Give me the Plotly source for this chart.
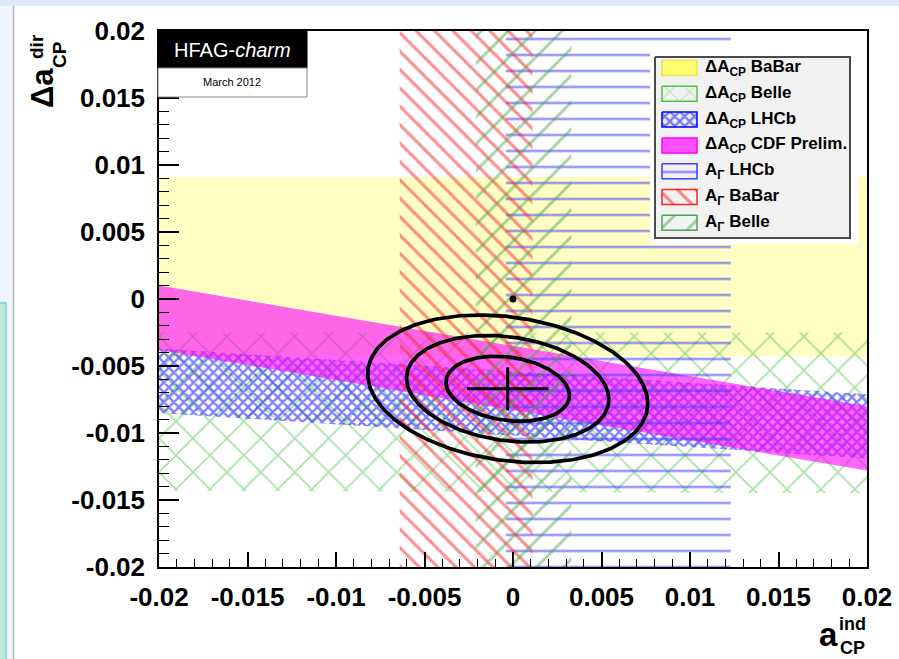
import numpy as np
import plotly.graph_objects as go

# ---------------- data ----------------
x_range = [-0.02, 0.02]
y_range = [-0.02, 0.02]

tick_vals = [-0.02, -0.015, -0.01, -0.005, 0, 0.005, 0.01, 0.015, 0.02]
tick_text = ["-0.02", "-0.015", "-0.01", "-0.005", "0", "0.005", "0.01", "0.015", "0.02"]

# Delta A_CP bands: y limits at the left (x=-0.02) and right (x=+0.02) edges
dacp_babar_left = [-0.0043, 0.0091]
dacp_babar_right = [-0.0043, 0.0091]
dacp_belle_left = [-0.0143, -0.0025]
dacp_belle_right = [-0.0145, -0.0025]
dacp_lhcb_left = [-0.0085, -0.0037]
dacp_lhcb_right = [-0.0119, -0.0071]
dacp_cdf_left = [-0.0038, 0.0010]
dacp_cdf_right = [-0.0128, -0.0080]

# A_Gamma bands: x limits (vertical bands over the full y range)
agamma_lhcb_x = [-0.0004, 0.0123]
agamma_babar_x = [-0.0064, 0.0011]
agamma_belle_x = [-0.0021, 0.0033]

# HFAG fit result
fit_center = [-0.0003, -0.0067]
fit_sigma = [0.0023, 0.0016]
fit_rho = -0.2
contour_dchi2 = [2.30, 6.18, 11.83]
no_cpv_point = [0.0, 0.0]

legend_names = [
    "ΔA<sub>CP</sub> BaBar",
    "ΔA<sub>CP</sub> Belle",
    "ΔA<sub>CP</sub> LHCb",
    "ΔA<sub>CP</sub> CDF Prelim.",
    "A<sub>Γ</sub> LHCb",
    "A<sub>Γ</sub> BaBar",
    "A<sub>Γ</sub> Belle",
]

# ---------------- styles ----------------
band_styles = [
    dict(fillcolor="#ffffc4", pattern=None, line="#e6e650", swatch_fill="#ffff70"),
    dict(fillcolor="rgba(0,0,0,0)", pattern=dict(shape="x", fgcolor="#4cc44c", size=24, solidity=0.13),
         line="#4cc44c", swatch_fill=None),
    dict(fillcolor="rgba(0,0,0,0)", pattern=dict(shape="x", fgcolor="#0000ff", size=7, solidity=0.55),
         line="#0000ff", swatch_fill=None),
    dict(fillcolor="rgba(255,0,255,0.6)", pattern=None, line="#ff00ff", swatch_fill="#ff50ff"),
    dict(fillcolor="rgba(0,0,0,0)", pattern=dict(shape="-", fgcolor="#3c3cff", size=16, solidity=0.17),
         line="#3c3cff", swatch_fill=None),
    dict(fillcolor="rgba(0,0,0,0)", pattern=dict(shape="\\", fgcolor="#ff2020", size=13, solidity=0.24),
         line="#ff2020", swatch_fill=None),
    dict(fillcolor="rgba(0,0,0,0)", pattern=dict(shape="/", fgcolor="#4fa44f", size=19, solidity=0.15),
         line="#4fa44f", swatch_fill=None),
]

# ---------------- figure geometry ----------------
W, H = 899, 659
ML, MR, MT, MB = 159, 32, 31, 92
PW, PH = W - ML - MR, H - MT - MB


def px(xp):
    return (xp - ML) / PW


def py(yp):
    return (H - MB - yp) / PH


FONT = "Liberation Sans, Arial, Helvetica, sans-serif"

fig = go.Figure()


def hband(left, right):
    xs = [x_range[0], x_range[1], x_range[1], x_range[0], x_range[0]]
    ys = [left[0], right[0], right[1], left[1], left[0]]
    return xs, ys


def vband(xl):
    xs = [xl[0], xl[1], xl[1], xl[0], xl[0]]
    ys = [y_range[0], y_range[0], y_range[1], y_range[1], y_range[0]]
    return xs, ys


bands = [
    hband(dacp_babar_left, dacp_babar_right),
    hband(dacp_belle_left, dacp_belle_right),
    hband(dacp_lhcb_left, dacp_lhcb_right),
    hband(dacp_cdf_left, dacp_cdf_right),
    vband(agamma_lhcb_x),
    vband(agamma_babar_x),
    vband(agamma_belle_x),
]

for (xs, ys), name, st in zip(bands, legend_names, band_styles):
    kw = dict(x=xs, y=ys, mode="lines", fill="toself", name=name, showlegend=False,
              fillcolor=st["fillcolor"], line=dict(width=0, color=st["line"]), hoverinfo="skip")
    if st["pattern"] is not None:
        kw["fillpattern"] = st["pattern"]
    fig.add_trace(go.Scatter(**kw))

# Fit contours
t = np.linspace(0, 2 * np.pi, 300)
cov = np.array([[fit_sigma[0] ** 2, fit_rho * fit_sigma[0] * fit_sigma[1]],
                [fit_rho * fit_sigma[0] * fit_sigma[1], fit_sigma[1] ** 2]])
Lc = np.linalg.cholesky(cov)
for d in contour_dchi2:
    k = np.sqrt(d)
    pts = Lc @ np.vstack([np.cos(t), np.sin(t)]) * k
    fig.add_trace(go.Scatter(x=fit_center[0] + pts[0], y=fit_center[1] + pts[1], mode="lines",
                             line=dict(color="black", width=3.7), showlegend=False, hoverinfo="skip"))
# Fit error cross
fig.add_trace(go.Scatter(x=[fit_center[0] - fit_sigma[0], fit_center[0] + fit_sigma[0]],
                         y=[fit_center[1], fit_center[1]], mode="lines",
                         line=dict(color="black", width=3), showlegend=False))
fig.add_trace(go.Scatter(x=[fit_center[0], fit_center[0]],
                         y=[fit_center[1] - fit_sigma[1], fit_center[1] + fit_sigma[1]], mode="lines",
                         line=dict(color="black", width=3), showlegend=False))
# No-CPV point
fig.add_trace(go.Scatter(x=[no_cpv_point[0]], y=[no_cpv_point[1]], mode="markers",
                         marker=dict(color="black", size=7), showlegend=False))

# ---------------- legend box (drawn in an overlay subplot in pixel units) ----------------
LX0, LX1, LY0, LY1 = 650, 858, 52, 244
box = [655, 850, 57, 238]
sw_x = [662, 697]
row0, row_step, sw_half = 68, 25.8, 7.5
text_x = 703

fig.add_trace(go.Scatter(x=[box[0], box[1], box[1], box[0], box[0]],
                         y=[box[2], box[2], box[3], box[3], box[2]],
                         mode="lines", fill="toself", fillcolor="#f2f2f2",
                         line=dict(color="#4a4a4a", width=2), xaxis="x2", yaxis="y2",
                         showlegend=False, hoverinfo="skip"))
annotations = []
for i, (name, st) in enumerate(zip(legend_names, band_styles)):
    yc = row0 + i * row_step
    xs = [sw_x[0], sw_x[1], sw_x[1], sw_x[0], sw_x[0]]
    ys = [yc - sw_half, yc - sw_half, yc + sw_half, yc + sw_half, yc - sw_half]
    kw = dict(x=xs, y=ys, mode="lines", fill="toself", xaxis="x2", yaxis="y2",
              line=dict(color=st["line"], width=1.5), showlegend=False, hoverinfo="skip",
              fillcolor=st["swatch_fill"] if st["swatch_fill"] else "rgba(0,0,0,0)")
    if st["pattern"] is not None:
        p = dict(st["pattern"])
        if p["shape"] == "x" and p["size"] > 20:
            p["size"] = 14
        kw["fillpattern"] = p
    fig.add_trace(go.Scatter(**kw))
    annotations.append(dict(text=name, xref="paper", yref="paper", x=px(text_x), y=py(yc),
                            xanchor="left", yanchor="middle", showarrow=False,
                            font=dict(family=FONT, size=17, color="black", weight=700)))

axis_common = dict(
    showgrid=False, zeroline=False, showline=True, linecolor="black", linewidth=1.5,
    mirror=True, ticks="inside", tickcolor="black", tickwidth=1.5,
    tickvals=tick_vals, ticktext=tick_text,
    tickfont=dict(family=FONT, size=26, color="black", weight=700),
    automargin=False,
)
fig.update_layout(
    xaxis=dict(range=x_range, ticklen=15, ticklabelstandoff=6, domain=[0, 1],
               minor=dict(ticks="inside", ticklen=8, dtick=0.001, tickcolor="black", tickwidth=1.2),
               **axis_common),
    yaxis=dict(range=y_range, ticklen=20, ticklabelstandoff=7, domain=[0, 1],
               minor=dict(ticks="inside", ticklen=10, dtick=0.001, tickcolor="black", tickwidth=1.2),
               **axis_common),
    xaxis2=dict(domain=[px(LX0), px(LX1)], range=[LX0, LX1], anchor="y2", visible=False,
                fixedrange=True),
    yaxis2=dict(domain=[py(LY1), py(LY0)], range=[LY1, LY0], anchor="x2", visible=False,
                fixedrange=True),
)

shapes = [
    # slide background decorations
    dict(type="rect", xref="paper", yref="paper", x0=px(0), x1=px(13), y0=py(H), y1=py(0),
         fillcolor="#eef4fb", line=dict(width=0), layer="below"),
    dict(type="rect", xref="paper", yref="paper", x0=px(0), x1=px(W), y0=py(6), y1=py(0),
         fillcolor="#dde9f6", line=dict(width=0), layer="below"),
    dict(type="line", xref="paper", yref="paper", x0=px(13.5), x1=px(13.5), y0=py(H), y1=py(6),
         line=dict(color="#b8b8b0", width=1.5), layer="below"),
    dict(type="rect", xref="paper", yref="paper", x0=px(-2), x1=px(6), y0=py(H + 2), y1=py(303),
         fillcolor="#bde8da", line=dict(color="#7fd5bd", width=1.5), layer="below"),
    # HFAG label boxes
    dict(type="rect", xref="paper", yref="paper", x0=px(158), x1=px(307), y0=py(68), y1=py(31),
         fillcolor="black", line=dict(color="black", width=1), layer="above"),
    dict(type="rect", xref="paper", yref="paper", x0=px(158), x1=px(307), y0=py(97), y1=py(68),
         fillcolor="white", line=dict(color="#888888", width=1), layer="above"),
]


def ann(text, x, y, size, angle=0, color="black", weight=700):
    return dict(text=text, xref="paper", yref="paper", x=px(x), y=py(y), textangle=angle,
                xanchor="center", yanchor="middle", showarrow=False, borderpad=0,
                font=dict(family=FONT, size=size, color=color, weight=weight))


annotations += [
    ann("HFAG-<i>charm</i>", 232, 50, 20, color="white", weight=400),
    ann("March 2012", 232, 82, 11, weight=400),
    # y title
    ann("Δa", 42, 88, 31, angle=-90),
    ann("dir", 37, 47, 19, angle=-90),
    ann("CP", 59, 55, 19, angle=-90),
    # x title
    ann("a", 828, 634, 33),
    ann("ind", 852, 624, 18),
    ann("CP", 852, 648, 18),
]

fig.update_layout(
    width=W, height=H,
    margin=dict(l=ML, r=MR, t=MT, b=MB, pad=0),
    paper_bgcolor="white", plot_bgcolor="white",
    shapes=shapes, annotations=annotations,
    showlegend=False,
    hovermode=False,
)

fig.write_html(
    "out.html",
    config={"displayModeBar": False},
    post_script="document.body.style.margin='0px';document.body.style.padding='0px';"
                "document.documentElement.style.overflow='hidden';document.body.style.overflow='hidden';",
)
